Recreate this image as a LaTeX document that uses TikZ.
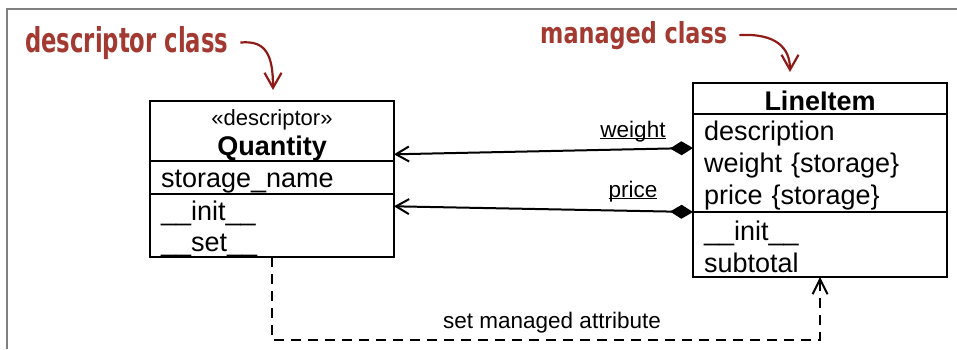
\documentclass[tikz,border=0pt]{standalone}
\usepackage{fontspec}
\usepackage{graphicx}
\setmainfont{Liberation Sans}
\newfontfamily\notefont{DejaVu Sans Condensed Bold}
\usepackage{tikz}
\usetikzlibrary{arrows.meta, positioning}
\definecolor{noteRed}{HTML}{A33A32}
\definecolor{noteArrow}{HTML}{8E1B17}
\definecolor{frameGray}{HTML}{808080}

\begin{document}
\begin{tikzpicture}[x=1pt, y=-1pt,
    compart/.style={draw, line width=2.2pt, outer sep=0pt, inner xsep=11pt, inner ysep=0pt,
      execute at begin node={\rule{0pt}{25pt}}, font=\fontsize{27}{32}\selectfont, align=left},
    qbox/.style={compart, text width=222pt},
    lbox/.style={compart, text width=232pt},
    note/.style={inner sep=0pt, text=noteRed, font=\notefont},
    notearrow/.style={-{Straight Barb[length=15pt,width=17pt]}, line width=2.2pt, noteArrow},
    assoc/.style={{Straight Barb[length=13pt,width=15pt]}-{Diamond[length=23pt,width=14pt]}, line width=2pt},
    depend/.style={-{Straight Barb[length=15pt,width=15pt]}, line width=2pt, dash pattern=on 10pt off 7pt},
    lbl/.style={inner sep=0pt, font=\fontsize{22.5}{26}\selectfont}
  ]
  \useasboundingbox (0,0) rectangle (957,349);
  \draw[frameGray, line width=2pt] (957,9) -- (7,9) -- (7,349);

  % === Quantity ===
  \node[qbox, minimum height=60pt, align=center] (q-head) at (272,131)
    {{\fontsize{22}{26}\selectfont «descriptor»}\\[-2pt]\textbf{Quantity}};
  \node[qbox, minimum height=33pt, below=0pt of q-head] (q-attr) {storage\_name};
  \node[qbox, minimum height=63pt, below=0pt of q-attr] (q-ops) {\_\_init\_\_\\[-1pt]\_\_set\_\_};

  % === LineItem ===
  \node[lbox, minimum height=31pt, align=center, font=\fontsize{27}{32}\selectfont\bfseries] (l-head) at (820,98.5) {LineItem};
  \node[lbox, minimum height=98pt, below=0pt of l-head] (l-attr) {description\\weight \{storage\}\\price \{storage\}};
  \node[lbox, minimum height=65pt, below=0pt of l-attr] (l-ops) {\_\_init\_\_\\subtotal};

  % === notes ===
  \node[note, anchor=base west] (desc-note) at (25,52) {\resizebox{203pt}{26pt}{descriptor class}};
  \node[note, anchor=base west] (man-note) at (540,43) {\resizebox{187pt}{22pt}{managed class}};
  \coordinate (q-tip) at (273,90);
  \coordinate (l-tip) at (790,72);
  \draw[notearrow] ([xshift=12pt]desc-note.east) .. controls (266,40) and (273,55) .. (q-tip);
  \draw[notearrow] ([xshift=12pt]man-note.east) .. controls (776,33) and (790,48) .. (l-tip);

  % === associations ===
  \draw[assoc] ([yshift=7pt]q-head.south east) -- ([yshift=15pt]l-attr.west);
  \draw[assoc] ([yshift=-12pt]q-attr.south east) -- (l-attr.south west);
  \node[lbl, anchor=base] (weight-lbl) at (633,137) {\underline{\smash{weight}}};
  \node[lbl, anchor=base] (price-lbl) at (633,197) {\underline{\smash{price}}};

  % === dependency ===
  \draw[depend] (q-ops.south) -- ++(0,83) -| (l-ops.south);
  \node[lbl, anchor=base] (set-lbl) at (552,328) {set managed attribute};
\end{tikzpicture}
\end{document}
